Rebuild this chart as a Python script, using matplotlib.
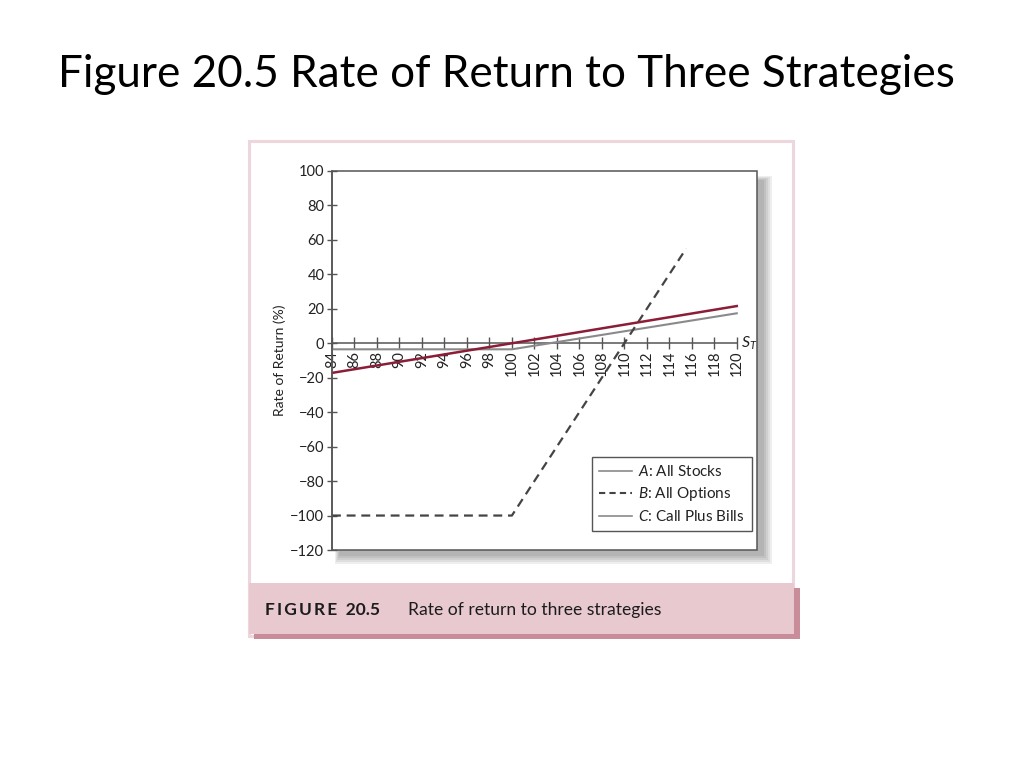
import matplotlib
matplotlib.use("Agg")
import matplotlib.pyplot as plt
from matplotlib.patches import Rectangle
from matplotlib.lines import Line2D

# ==============================
# DATA
# ==============================

stock_price = [84, 100, 120]
all_stocks = [-17.2, 0, 21.6]

option_price = [84, 100, 115.5]
all_options = [-100, -100, 55]

bills_price = [84, 100, 120]
call_plus_bills = [-3.5, -3.5, 17.4]

x_ticks = list(range(84, 121, 2))
y_ticks = list(range(-120, 101, 20))

legend_labels = [r"$\mathit{A}$: All Stocks",
                 r"$\mathit{B}$: All Options",
                 r"$\mathit{C}$: Call Plus Bills"]

slide_title = "Figure 20.5 Rate of Return to Three Strategies"
caption_tag = "\u2009".join("FIGURE") + "  20.5"
caption_text = "Rate of return to three strategies"

# ==============================
# STYLE
# ==============================

plt.rcParams["font.family"] = ["Lato", "DejaVu Sans"]
plt.rcParams["mathtext.fontset"] = "custom"
plt.rcParams["mathtext.rm"] = "Lato"
plt.rcParams["mathtext.it"] = "Lato:italic"

W, H = 1024, 768
fig = plt.figure(figsize=(W / 100, H / 100), dpi=100)
fig.patch.set_facecolor("white")


def fx(x):
    return x / W


def fy(y):
    return 1 - y / H


def box(x0, y0, x1, y1, **kw):
    r = Rectangle((fx(x0), fy(y1)), (x1 - x0) / W, (y1 - y0) / H,
                  transform=fig.transFigure, zorder=kw.pop("zorder", -5), **kw)
    fig.patches.append(r)


# slide title
fig.text(fx(58), fy(87), slide_title, fontsize=31.7, color="black",
         ha="left", va="baseline")

# figure panel: pink frame + caption band with shadow
box(249, 141, 793, 636, facecolor="white", edgecolor="#eed7dc", linewidth=2.2)
box(254, 588, 800, 639, facecolor="#c98c99", edgecolor="none", zorder=-4)
box(249, 583, 794, 634, facecolor="#e8c9d0", edgecolor="none", zorder=-3)

fig.text(fx(265), fy(610), caption_tag, fontsize=12.5, fontweight="bold",
         color="#1c1c1c", ha="left", va="center")
fig.text(fx(408), fy(610), caption_text, fontsize=12.6, color="#1c1c1c",
         ha="left", va="center")

# shadow behind plot box
for k in range(5):
    box(335 + k, 176 + k, 772 - 2 * k, 564 - 2 * k, facecolor="black",
        alpha=0.065, edgecolor="none", zorder=-2)

# ==============================
# CHART
# ==============================

ax = fig.add_axes([fx(332), fy(550), (757 - 332) / W, (550 - 171) / H])
ax.set_facecolor("white")
ax.set_xlim(84, 121.8)
ax.set_ylim(-120, 100)

ax.plot(bills_price, call_plus_bills, color="#8a8a8a", lw=1.5, zorder=3)
ax.plot(option_price, all_options, color="#444444", lw=1.6,
        linestyle=(0, (4, 2.6)), zorder=3)
ax.plot(stock_price, all_stocks, color="#8b1d36", lw=1.8, zorder=4)

# box around plot
ax.add_patch(Rectangle((0, 0), 1, 1, transform=ax.transAxes, fill=False,
                       edgecolor="#555555", lw=1.1, clip_on=False, zorder=5))

for side in ["top", "right"]:
    ax.spines[side].set_visible(False)
ax.spines["left"].set_color("#555555")
ax.spines["left"].set_linewidth(1.1)
ax.spines["bottom"].set_position(("data", 0))
ax.spines["bottom"].set_bounds(84, 120)
ax.spines["bottom"].set_color("#555555")
ax.spines["bottom"].set_linewidth(1.1)

ax.set_xticks(x_ticks)
ax.set_xticklabels([str(t) for t in x_ticks], rotation=90)
ax.set_yticks(y_ticks)
ax.set_yticklabels([str(t).replace("-", "\u2212") for t in y_ticks])
ax.tick_params(axis="x", direction="inout", length=9, width=1, color="#555555",
               labelsize=10.5, pad=1, labelcolor="#222222")
ax.tick_params(axis="y", direction="inout", length=7, width=1, color="#555555",
               labelsize=10.5, pad=2, labelcolor="#222222")

ax.set_ylabel("Rate of Return (%)", fontsize=10, color="#222222", labelpad=3)
ax.text(120.4, 0, r"$S_T$", fontsize=11.5, color="#222222", ha="left",
        va="center")

handles = [Line2D([], [], color="#8a8a8a", lw=1.2),
           Line2D([], [], color="#444444", lw=1.5, linestyle=(0, (3, 2))),
           Line2D([], [], color="#8a8a8a", lw=1.2)]
leg = ax.legend(handles, legend_labels, loc="lower right",
                bbox_to_anchor=(0.988, 0.05), borderaxespad=0, fontsize=11,
                fancybox=False, framealpha=1, edgecolor="#555555",
                handlelength=2.2, handletextpad=0.4, labelspacing=0.4,
                borderpad=0.45)
leg.get_frame().set_linewidth(1)
for t in leg.get_texts():
    t.set_color("#222222")

fig.savefig("out.png", dpi=100)
